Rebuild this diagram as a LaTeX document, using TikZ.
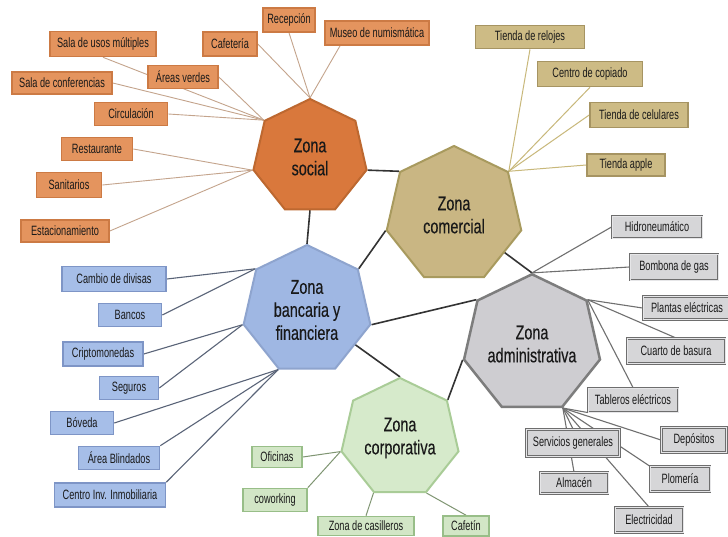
\documentclass[tikz,border=0pt]{standalone}
\usepackage{fontspec}
\setmainfont{Liberation Sans}[FakeStretch=0.68]
\newfontfamily\hubfont{Liberation Sans}[FakeStretch=0.72, FakeBold=0.3]
\usetikzlibrary{shapes.geometric,calc}
\pgfdeclarelayer{bg}
\pgfsetlayers{bg,main}
\definecolor{orfill}{HTML}{E4945E}
\definecolor{orline}{HTML}{CC7A44}
\definecolor{orhub}{HTML}{D9783C}
\definecolor{orhubline}{HTML}{BD6830}
\definecolor{orlink}{HTML}{C4A48C}
\definecolor{khfill}{HTML}{CDBB85}
\definecolor{khline}{HTML}{A69462}
\definecolor{khhub}{HTML}{C9B683}
\definecolor{khhubline}{HTML}{A89A5E}
\definecolor{khlink}{HTML}{C8B87A}
\definecolor{blfill}{HTML}{A6BEE8}
\definecolor{blline}{HTML}{7E95C6}
\definecolor{blhub}{HTML}{9FB7E3}
\definecolor{blhubline}{HTML}{8EA4CE}
\definecolor{bllink}{HTML}{5A6478}
\definecolor{grfill}{HTML}{D2E6C6}
\definecolor{grline}{HTML}{98BE88}
\definecolor{grhub}{HTML}{D6EACB}
\definecolor{grhubline}{HTML}{A9CC97}
\definecolor{grlink}{HTML}{7F9572}
\definecolor{gyfill}{HTML}{D6D6D8}
\definecolor{gyline}{HTML}{6E6E6E}
\definecolor{gyhub}{HTML}{CECDD1}
\definecolor{gyhubline}{HTML}{7D7D7D}
\definecolor{gylink}{HTML}{707070}
\definecolor{hublink}{HTML}{333333}
\tikzset{
  hub/.style={regular polygon, regular polygon sides=7, inner sep=0pt, align=center,
    line width=2pt, text=black!90, font=\hubfont\fontsize{20}{23}\selectfont},
  bx/.style={rectangle, inner sep=0pt, line width=1.6pt, text=black!90,
    font=\fontsize{13.5}{15}\selectfont},
  obox/.style={bx, fill=orfill, draw=orline},
  kbox/.style={bx, fill=khfill, draw=khline},
  bbox/.style={bx, fill=blfill, draw=blline},
  gbox/.style={bx, fill=grfill, draw=grline},
  abox/.style={bx, fill=gyfill, draw=gyline, line width=1pt, double=gyfill!60!white, double distance=0.8pt},
  olink/.style={draw=orlink, line width=0.9pt},
  klink/.style={draw=khlink, line width=1pt},
  blink/.style={draw=bllink, line width=1.1pt},
  glink/.style={draw=grlink, line width=1pt},
  alink/.style={draw=gylink, line width=1.1pt},
  hlink/.style={draw=hublink, line width=1.6pt},
}
\begin{document}
\begin{tikzpicture}[x=1pt,y=-1pt]
\useasboundingbox (0,0) rectangle (728,537);
\begin{pgfonlayer}{bg}
\fill[white] (0,0) rectangle (728,537);
\end{pgfonlayer}

% hubs
\node[hub, minimum size=116, fill=orhub, draw=orhubline] (S) at (310,157) {Zona\\social};
\node[hub, minimum size=138, fill=khhub, draw=khhubline] (C) at (454,215) {Zona\\comercial};
\node[hub, minimum size=130, fill=blhub, draw=blhubline] (B) at (307,310) {Zona\\bancaria y\\financiera};
\node[hub, minimum size=122, fill=gyhub, draw=gyhubline, line width=2.5pt] (A) at (532,344) {Zona\\administrativa};
\node[hub, minimum size=120, fill=grhub, draw=grhubline] (P) at (400,438) {Zona\\corporativa};

% social boxes
\node[obox, minimum width=106, minimum height=25] (s1) at (103,44) {Sala de usos múltiples};
\node[obox, minimum width=54, minimum height=24] (s2) at (230,44) {Cafetería};
\node[obox, minimum width=52, minimum height=24] (s3) at (289,20) {Recepción};
\node[obox, minimum width=104, minimum height=24] (s4) at (377,33) {Museo de numismática};
\node[obox, minimum width=70, minimum height=23] (s5) at (183,77) {Áreas verdes};
\node[obox, minimum width=100, minimum height=22] (s6) at (62,83) {Sala de conferencias};
\node[obox, minimum width=73, minimum height=23] (s7) at (131,114) {Circulación};
\node[obox, minimum width=71, minimum height=23] (s8) at (97,149) {Restaurante};
\node[obox, minimum width=65, minimum height=25] (s9) at (69,185) {Sanitarios};
\node[obox, minimum width=88, minimum height=22] (s10) at (65,231) {Estacionamiento};

% commercial boxes
\node[kbox, minimum width=109, minimum height=23] (c1) at (530,37) {Tienda de relojes};
\node[kbox, minimum width=105, minimum height=25] (c2) at (590,74) {Centro de copiado};
\node[kbox, minimum width=98, minimum height=25] (c3) at (639,115) {Tienda de celulares};
\node[kbox, minimum width=78, minimum height=22] (c4) at (626,165) {Tienda apple};

% banking boxes
\node[bbox, minimum width=104, minimum height=25] (b1) at (114,279) {Cambio de divisas};
\node[bbox, minimum width=63, minimum height=23] (b2) at (130,315) {Bancos};
\node[bbox, minimum width=80, minimum height=24] (b3) at (103,354) {Criptomonedas};
\node[bbox, minimum width=59, minimum height=23] (b4) at (129,388) {Seguros};
\node[bbox, minimum width=63, minimum height=23] (b5) at (82,423) {Bóveda};
\node[bbox, minimum width=81, minimum height=23] (b6) at (119,458) {Área Blindados};
\node[bbox, minimum width=111, minimum height=24] (b7) at (110,495) {Centro Inv. Inmobiliaria};

% corporate boxes
\node[gbox, minimum width=50, minimum height=21] (p1) at (277,457) {Oficinas};
\node[gbox, minimum width=64, minimum height=23] (p2) at (275,500) {coworking};
\node[gbox, minimum width=96, minimum height=19] (p3) at (366,526) {Zona de casilleros};
\node[gbox, minimum width=46, minimum height=20] (p4) at (466,526) {Cafetín};

% administrative boxes
\node[abox, minimum width=90, minimum height=22] (a1) at (657,227) {Hidroneumático};
\node[abox, minimum width=88, minimum height=26] (a2) at (674,267) {Bombona de gas};
\node[abox, minimum width=88, minimum height=23] (a3) at (687,308) {Plantas eléctricas};
\node[abox, minimum width=98, minimum height=25] (a4) at (676,351) {Cuarto de basura};
\node[abox, minimum width=90, minimum height=24] (a5) at (633,400) {Tableros eléctricos};
\node[abox, minimum width=65, minimum height=25] (a6) at (694,440) {Depósitos};
\node[abox, minimum width=93, minimum height=27] (a7) at (573,443) {Servicios generales};
\node[abox, minimum width=60, minimum height=25] (a8) at (680,479) {Plomería};
\node[abox, minimum width=68, minimum height=21] (a9) at (574,483) {Almacén};
\node[abox, minimum width=68, minimum height=25] (a10) at (649,520) {Electricidad};

\begin{pgfonlayer}{bg}
% hub links
\draw[hlink] (S.south) -- (B.corner 1);
\draw[hlink] (S.corner 6) -- (C.corner 2);
\draw[hlink] (C.corner 3) -- (B.corner 7);
\draw[hlink] (C.center) -- (A.corner 1);
\draw[hlink] (B.corner 6) -- (A.corner 2);
\draw[hlink] (B.center) -- (P.corner 1);
\draw[hlink] (P.corner 7) -- (A.corner 3);
% social links
\draw[olink] (s1.south) -- (S.corner 2);
\draw[olink] (s2.east) -- (S.corner 1);
\draw[olink] (s3.south) -- (S.corner 1);
\draw[olink] ($(s4.south west)!0.15!(s4.south east)$) -- (S.corner 1);
\draw[olink] (s5.east) -- (S.corner 2);
\draw[olink] (s6.east) -- (S.corner 2);
\draw[olink] (s7.east) -- (S.corner 2);
\draw[olink] (s8.east) -- (S.corner 3);
\draw[olink] (s9.east) -- (S.corner 3);
\draw[olink] (s10.east) -- (S.corner 3);
% commercial links
\draw[klink] (c1.south) -- (C.corner 7);
\draw[klink] (c2.south) -- (C.corner 7);
\draw[klink] (c3.west) -- (C.corner 7);
\draw[klink] (c4.west) -- (C.corner 7);
% banking links
\draw[blink] (b1.east) -- (B.corner 2);
\draw[blink] (b2.east) -- (B.corner 2);
\draw[blink] (b3.east) -- (B.corner 3);
\draw[blink] (b4.east) -- (B.corner 3);
\draw[blink] (b5.east) -- (B.corner 4);
\draw[blink] (b6.north east) -- (B.corner 4);
\draw[blink] (b7.north east) -- (B.corner 4);
% corporate links
\draw[glink] (p1.east) -- (P.corner 3);
\draw[glink] (p2.north east) -- (P.corner 3);
\draw[glink] (p3.north) -- (P.corner 4);
\draw[glink] (p4.north) -- (P.corner 5);
% administrative links
\draw[alink] (a1.west) -- (A.corner 1);
\draw[alink] (a2.west) -- (A.corner 1);
\draw[alink] (a3.west) -- (A.corner 7);
\draw[alink] (a4.north) -- (A.corner 7);
\draw[alink] (a5.north) -- (A.corner 7);
\draw[alink] (a5.south west) -- (A.corner 5);
\draw[alink] (a6.west) -- (A.corner 5);
\draw[alink] (a7.north) -- (A.corner 5);
\draw[alink] (a8.north west) -- (A.corner 5);
\draw[alink] (a9.north) -- (A.corner 5);
\draw[alink] (a10.north) -- (A.corner 5);
\end{pgfonlayer}
\end{tikzpicture}
\end{document}
